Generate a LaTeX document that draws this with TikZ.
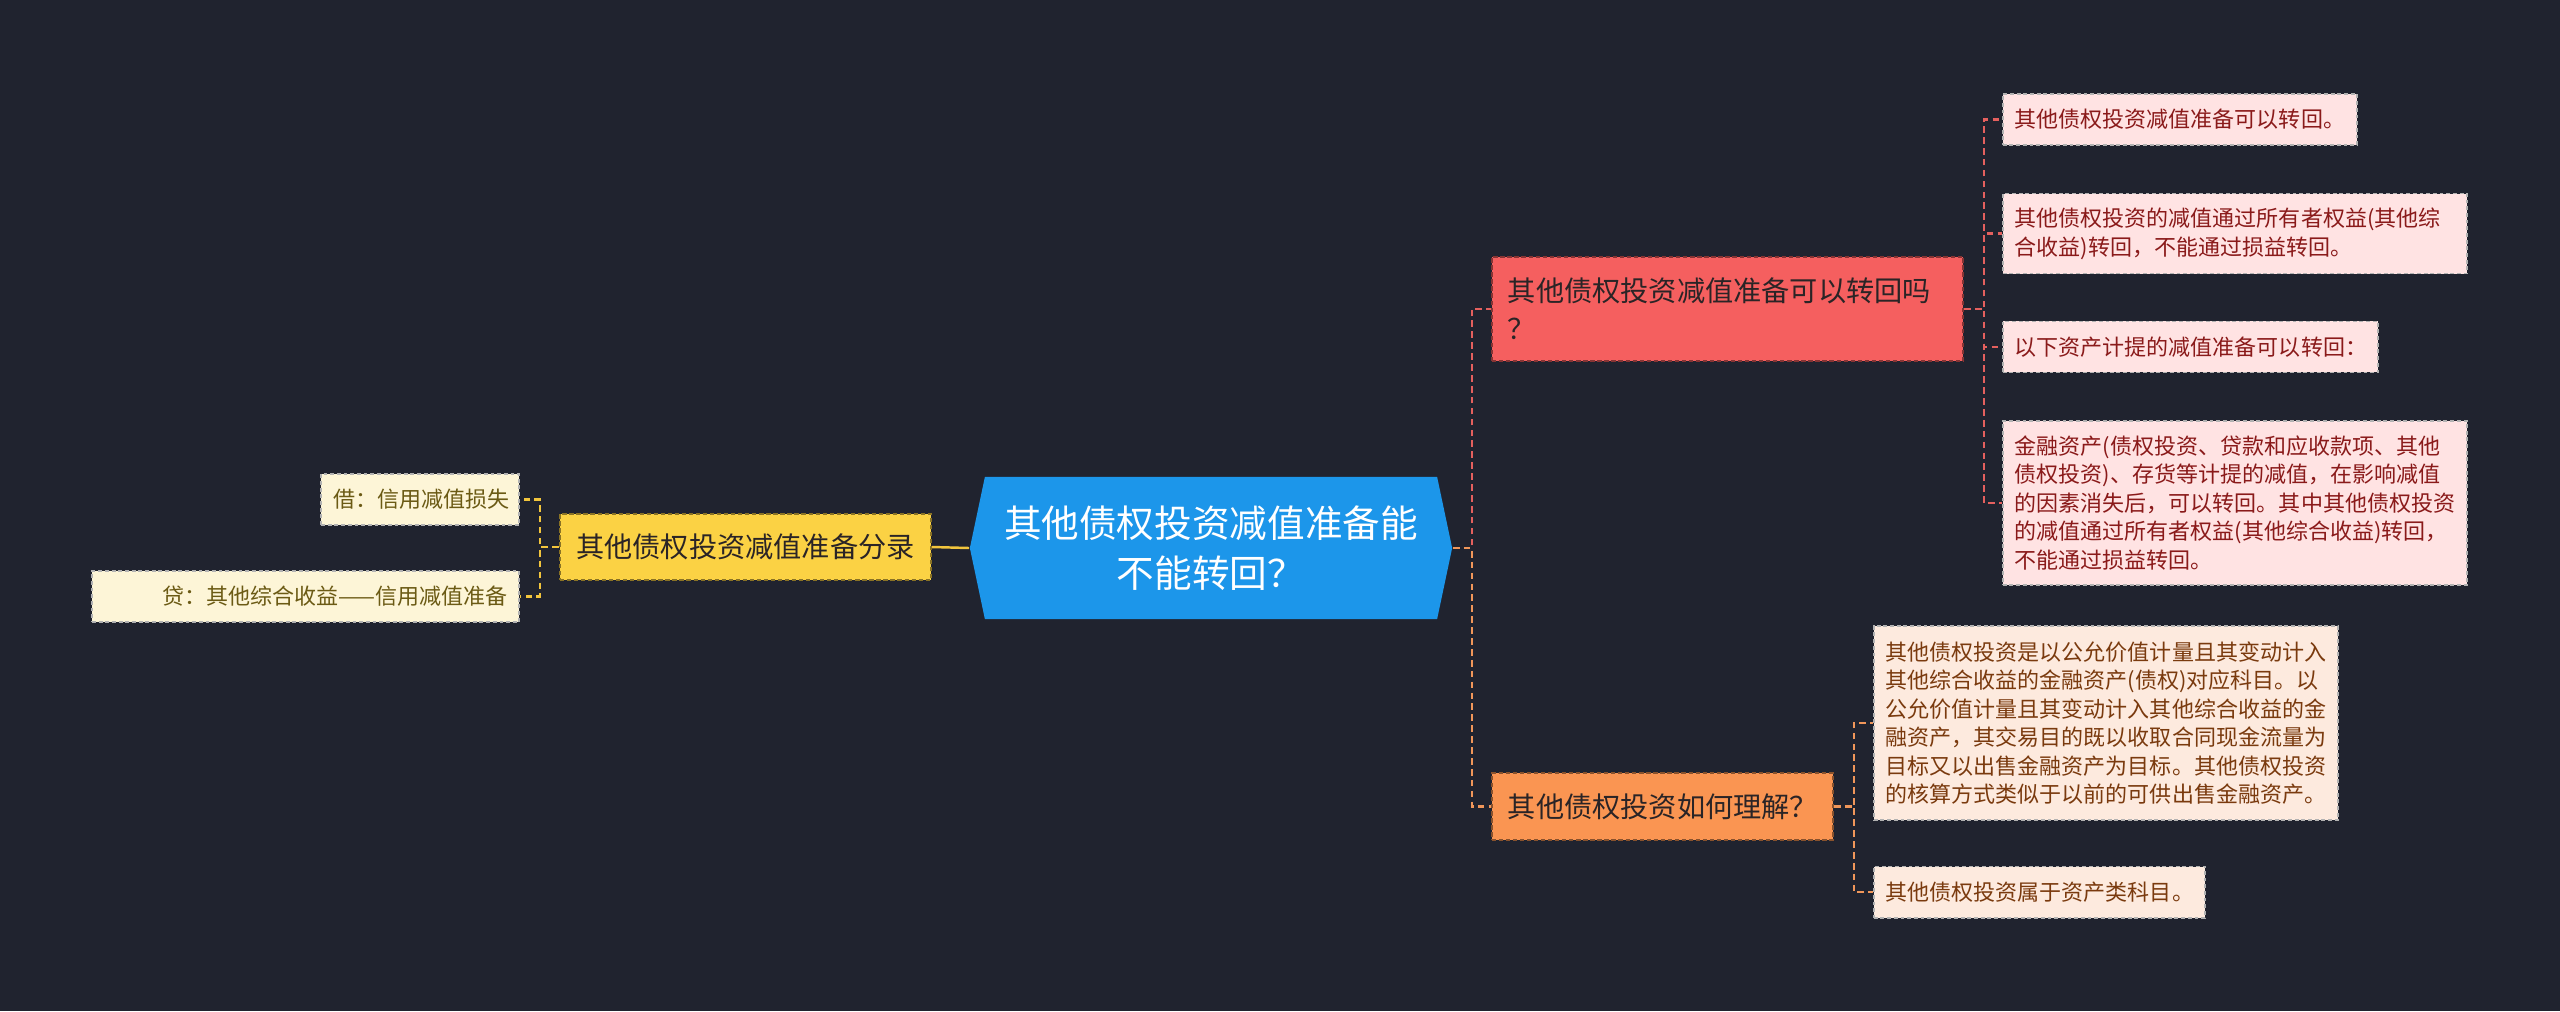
\documentclass[tikz,border=0pt]{standalone}
\usepackage{fontspec}
\setmainfont{Noto Sans CJK SC}
\usepackage{tikz}
\usetikzlibrary{positioning}
\definecolor{bgnavy}{HTML}{20232F}
\definecolor{rootblue}{HTML}{1C96EA}
\definecolor{entryyellow}{HTML}{FBD244}
\definecolor{entryleaf}{HTML}{FDF5D7}
\definecolor{entrytext}{HTML}{6B5A14}
\definecolor{entryline}{HTML}{F2C53D}
\definecolor{backred}{HTML}{F55F5F}
\definecolor{backleaf}{HTML}{FFE3E3}
\definecolor{backtext}{HTML}{8A1A1A}
\definecolor{backline}{HTML}{E4605E}
\definecolor{askorange}{HTML}{FA9552}
\definecolor{askleaf}{HTML}{FDEADE}
\definecolor{asktext}{HTML}{7A3A0E}
\definecolor{askline}{HTML}{F0965A}
\definecolor{darktext}{HTML}{2A2426}

\begin{document}
\begin{tikzpicture}[x=0.01cm, y=-0.01cm,
  core/.style={rectangle, fill=bgnavy, minimum width=4.82cm, minimum height=1.42cm,
               text=white, align=center, font=\fontsize{10.7pt}{14.2pt}\selectfont,
               path picture={\fill[rootblue] (path picture bounding box.west)
                 -- ([xshift=0.15cm]path picture bounding box.north west)
                 -- ([xshift=-0.15cm]path picture bounding box.north east)
                 -- (path picture bounding box.east)
                 -- ([xshift=-0.15cm]path picture bounding box.south east)
                 -- ([xshift=0.15cm]path picture bounding box.south west) -- cycle;}},
  topic/.style={rectangle, dash pattern=on 1.2pt off 0.8pt, line width=0.5pt,
                font=\fontsize{8.02pt}{10.8pt}\selectfont, text=darktext,
                inner xsep=0.16cm, inner ysep=0pt},
  leaf/.style={rectangle, draw=gray!60, dash pattern=on 1.1pt off 0.8pt, line width=0.45pt,
               font=\fontsize{6.26pt}{8.1pt}\selectfont, inner xsep=0.12cm, inner ysep=0pt,
               minimum height=0.51cm},
  link/.style={line width=0.7pt, dash pattern=on 1.9pt off 1.2pt},
]
  \fill[bgnavy] (0,0) rectangle (2560,1011);

  % centre
  \node[core] (root) at (1211,548) {其他债权投资减值准备能\\不能转回？};

  % left branch
  \node[topic, fill=entryyellow, draw=entryyellow!55!black, minimum width=3.71cm,
        minimum height=0.66cm] (ent) at (745.5,547) {其他债权投资减值准备分录};
  \node[leaf, fill=entryleaf, text=entrytext, anchor=east, text width=1.74cm, align=right]
    (d1) at (520,499.5) {借：信用减值损失};
  \node[leaf, fill=entryleaf, text=entrytext, anchor=east, text width=4.03cm, align=right]
    (d2) at (520,596.5) {贷：其他综合收益——信用减值准备};

  % right branch, upper
  \node[topic, fill=backred, draw=backred!55!black, anchor=west, text width=4.39cm,
        minimum height=1.04cm, align=left] (q1) at (1491,309)
    {其他债权投资减值准备可以转回吗\\？};
  \node[leaf, fill=backleaf, text=backtext, anchor=west, text width=3.30cm, align=left]
    (r1) at (2002,119.5) {其他债权投资减值准备可以转回。};
  \node[leaf, fill=backleaf, text=backtext, text width=4.40cm, minimum height=0.80cm,
        align=left, below=0.47cm of r1.south west, anchor=north west] (r2)
    {其他债权投资的减值通过所有者权益(其他综\\合收益)转回，不能通过损益转回。};
  \node[leaf, fill=backleaf, text=backtext, text width=3.51cm, align=left,
        below=0.46cm of r2.south west, anchor=north west] (r3)
    {以下资产计提的减值准备可以转回：};
  \node[leaf, fill=backleaf, text=backtext, text width=4.40cm, minimum height=1.64cm,
        align=left, below=0.47cm of r3.south west, anchor=north west] (r4)
    {金融资产(债权投资、贷款和应收款项、其他\\债权投资)、存货等计提的减值，在影响减值\\的因素消失后，可以转回。其中其他债权投资\\的减值通过所有者权益(其他综合收益)转回，\\不能通过损益转回。};

  % right branch, lower
  \node[topic, fill=askorange, draw=askorange!55!black, anchor=west, text width=3.09cm,
        minimum height=0.67cm, align=left] (q2) at (1491,806.5) {其他债权投资如何理解？};
  \node[leaf, fill=askleaf, text=asktext, anchor=west, text width=4.40cm,
        minimum height=1.94cm, align=left] (o1) at (1873,723)
    {其他债权投资是以公允价值计量且其变动计入\\其他综合收益的金融资产(债权)对应科目。以\\公允价值计量且其变动计入其他综合收益的金\\融资产，其交易目的既以收取合同现金流量为\\目标又以出售金融资产为目标。其他债权投资\\的核算方式类似于以前的可供出售金融资产。};
  \node[leaf, fill=askleaf, text=asktext, text width=3.07cm, align=left,
        below=0.45cm of o1.south west, anchor=north west] (o2) {其他债权投资属于资产类科目。};

  % connectors
  \draw[entryline, line width=0.7pt] (root.west) -- (ent.east);
  \foreach \leafname in {d1,d2}
    \draw[link, entryline] (ent.west) -- ++(-19,0) |- (\leafname.east);
  \draw[link, backline] (root.east) -- ++(19,0) |- (q1.west);
  \draw[link, askline] (root.east) -- ++(19,0) |- (q2.west);
  \foreach \leafname in {r1,r2,r3,r4}
    \draw[link, backline] (q1.east) -- ++(20,0) |- (\leafname.west);
  \foreach \leafname in {o1,o2}
    \draw[link, askline] (q2.east) -- ++(20,0) |- (\leafname.west);
\end{tikzpicture}
\end{document}
